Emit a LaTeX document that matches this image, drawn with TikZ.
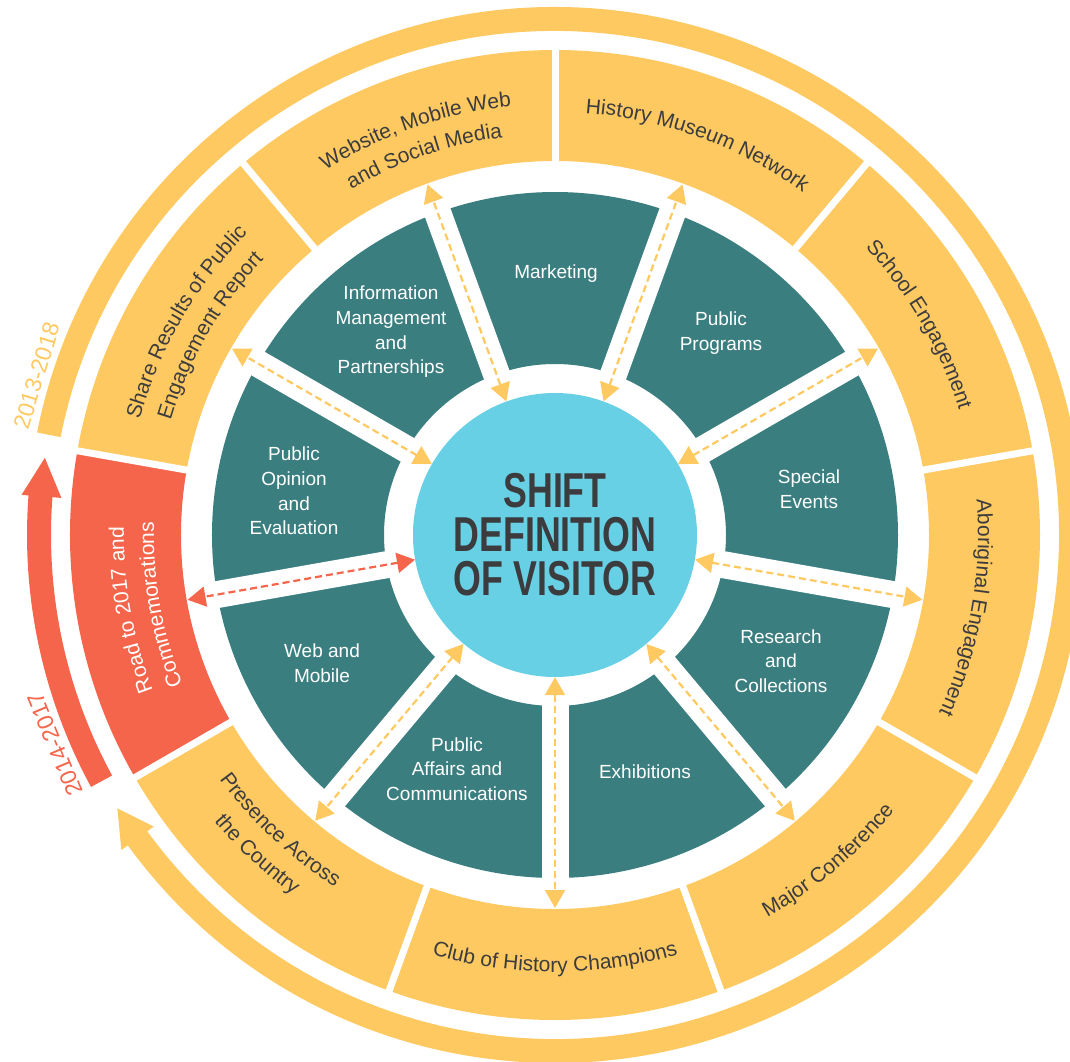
\documentclass[tikz,border=0pt]{standalone}
\usepackage{fontspec}
\usetikzlibrary{arrows.meta,decorations.text}
\setmainfont{Liberation Sans}
\newfontfamily\titlefont[FakeStretch=0.73]{Liberation Sans}
\newfontfamily\labfont{Liberation Sans}
\definecolor{ringc}{HTML}{FEC961}
\definecolor{tealc}{HTML}{3B7E80}
\definecolor{hubc}{HTML}{67D0E5}
\definecolor{redc}{HTML}{F4654B}
\definecolor{ink}{HTML}{3C3C3E}
\newcommand\seglab{\labfont\fontsize{21}{25}\selectfont}
\newcommand\teallab{\labfont\fontsize{19}{24.7}\selectfont}
\newcommand\yearlab{\labfont\fontsize{23}{26}\selectfont}
% text along an arc, read clockwise (tops outward)
\newcommand\ringtextcw[3]{\path[decorate,decoration={text along path,text align=center,text={#3}}] (#1+20:#2) arc[start angle=#1+20,end angle=#1-20,radius=#2];}
% text along an arc, read counter-clockwise (tops inward)
\newcommand\ringtextccw[3]{\path[decorate,decoration={text along path,text align=center,text={#3}}] (#1-20:#2) arc[start angle=#1-20,end angle=#1+20,radius=#2];}
\begin{document}
\begin{tikzpicture}[x=1pt,y=1pt,
  tlab/.style={text=white,align=center,font=\teallab,inner sep=0pt},
  darrow/.style={line width=2.2pt,dash pattern=on 7pt off 4pt,{Triangle[length=18pt,width=20pt]}-{Triangle[length=18pt,width=20pt]}}]
\clip (-555,-526) rectangle (515,535);
% outer cycle arrows
\fill[ringc] (168.8:504pt) arc[start angle=168.8,end angle=-144,radius=504pt] -- (-144:496pt) -- (-148:516pt) -- (-144:536pt) -- (-144:528pt) arc[start angle=-144,end angle=168.8,radius=528pt] -- cycle;
\fill[redc] (208.5:504pt) arc[start angle=208.5,end angle=175.7,radius=504pt] -- (175.7:495pt) -- (171.4:516pt) -- (175.7:535pt) -- (175.7:528pt) arc[start angle=175.7,end angle=208.5,radius=528pt] -- cycle;
\node[rotate=72.9,text=ringc,font=\yearlab,inner sep=0pt] (yr1) at (162.9:542pt) {2013-2018};
\node[rotate=112.7,text=redc,font=\yearlab,inner sep=0pt] (yr2) at (202.7:542pt) {2014-2017};
% outer ring segments
\foreach \c/\col in {110/ringc,70/ringc,30/ringc,-10/ringc,-50/ringc,-90/ringc,-130/ringc,190/redc,150/ringc}
  \fill[\col] (\c-20:374pt) -- (\c-20:485pt) arc[start angle=\c-20,end angle=\c+20,radius=485pt] -- (\c+20:374pt) arc[start angle=\c+20,end angle=\c-20,radius=374pt] -- cycle;
\foreach \g in {130,90,50,10,-30,-70,-110,-150,170}
  \draw[white,line width=7pt] (\g:366pt) -- (\g:493pt);
% inner ring segments
\foreach \c in {90,50,10,-30,-70,-110,-150,170,130}
  \fill[tealc] (\c-20:171pt) -- (\c-20:343pt) arc[start angle=\c-20,end angle=\c+20,radius=343pt] -- (\c+20:171pt) arc[start angle=\c+20,end angle=\c-20,radius=171pt] -- cycle;
\foreach \g in {110,70,30,-10,-50,-90,-130,190,150}
  \draw[white,line width=27pt] (\g:150pt) -- (\g:362pt);
% hub
\node[circle,fill=hubc,minimum size=284pt,inner sep=0pt,text=ink,align=center,
  font=\titlefont\bfseries\fontsize{49}{44}\selectfont] (hub) at (0,0) {SHIFT\\DEFINITION\\OF VISITOR};
% connectors
\foreach \g/\n in {110/1,70/2,30/3,350/4,310/5,270/6,230/7,150/9} {
  \coordinate (r\n) at (\g:373pt);
  \draw[darrow,ringc] (hub.\g) -- (r\n);
}
\coordinate (r8) at (190:373pt);
\draw[darrow,redc] (hub.190) -- (r8);
% inner ring labels
\node[tlab] (t1) at (1,261) {Marketing};
\node[tlab] (t2) at (166,202) {Public\\Programs};
\node[tlab] (t3) at (254,46) {Special\\Events};
\node[tlab] (t4) at (226,-126) {Research\\and\\Collections};
\node[tlab] (t5) at (90,-237) {Exhibitions};
\node[tlab] (t6) at (-98,-234) {Public\\Affairs and\\Communications};
\node[tlab] (t7) at (-233,-128) {Web and\\Mobile};
\node[tlab] (t8) at (-261,44) {Public\\Opinion\\and\\Evaluation};
\node[tlab] (t9) at (-164,203) {Information\\Management\\and\\Partnerships};
% outer ring labels
\ringtextcw{109}{431pt}{|\seglab\color{ink}|Website{,} Mobile Web}
\ringtextcw{109}{401pt}{|\seglab\color{ink}|and Social Media}
\ringtextcw{70}{423pt}{|\seglab\color{ink}|History Museum Network}
\ringtextcw{30}{423pt}{|\seglab\color{ink}|School Engagement}
\ringtextcw{-10}{423pt}{|\seglab\color{ink}|Aboriginal Engagement}
\ringtextccw{-50}{437pt}{|\seglab\color{ink}|Major Conference}
\ringtextccw{-90}{437pt}{|\seglab\color{ink}|Club of History Champions}
\ringtextccw{-133}{415pt}{|\seglab\color{ink}|Presence Across}
\ringtextccw{-133}{445pt}{|\seglab\color{ink}|the Country}
\ringtextcw{190}{431pt}{|\seglab\color{white}|Road to 2017 and}
\ringtextcw{190}{401pt}{|\seglab\color{white}|Commemorations}
\ringtextcw{150}{431pt}{|\seglab\color{ink}|Share Results of Public}
\ringtextcw{150}{401pt}{|\seglab\color{ink}|Engagement Report}
\end{tikzpicture}
\end{document}
